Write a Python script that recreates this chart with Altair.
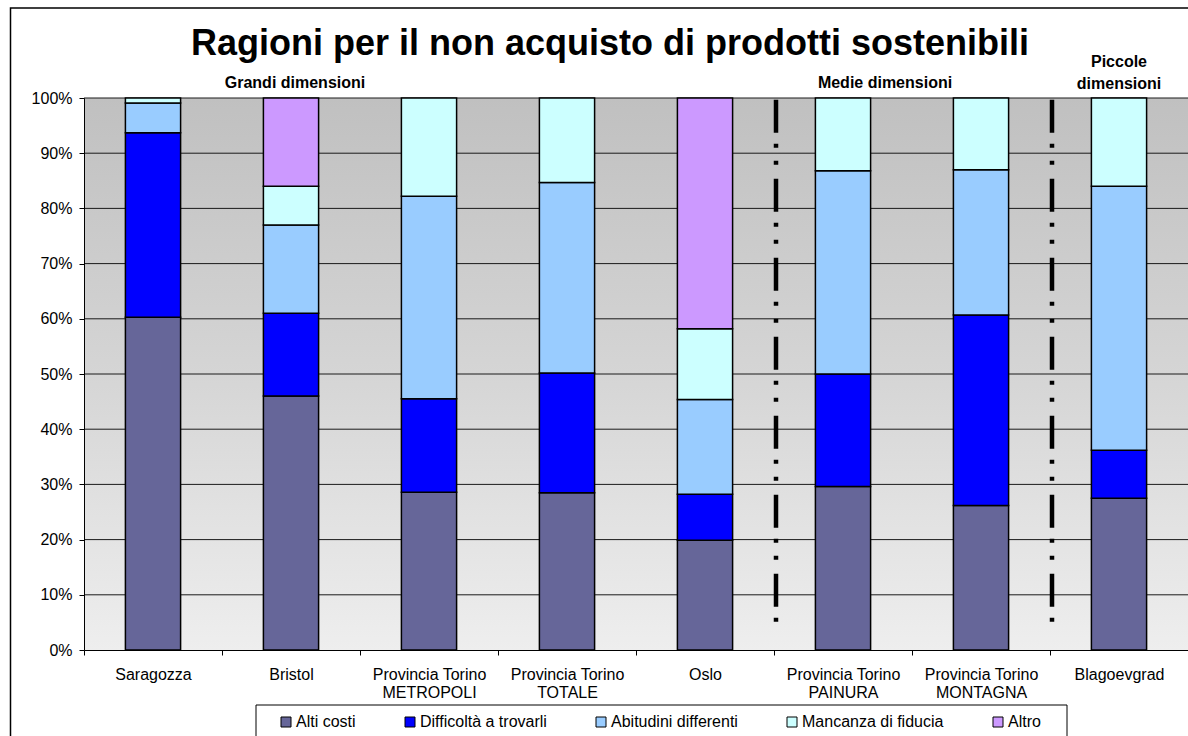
import altair as alt
import pandas as pd

# Categories (x axis) and the share of each reason, in percent
CATEGORIES = [
    "Saragozza",
    "Bristol",
    "Provincia Torino\nMETROPOLI",
    "Provincia Torino\nTOTALE",
    "Oslo",
    "Provincia Torino\nPAINURA",
    "Provincia Torino\nMONTAGNA",
    "Blagoevgrad",
]
SERIES = ["Alti costi", "Difficoltà a trovarli", "Abitudini differenti",
          "Mancanza di fiducia", "Altro"]
ALTI_COSTI = [60.3, 46.0, 28.6, 28.5, 19.9, 29.6, 26.2, 27.5]
DIFFICOLTA = [33.4, 15.0, 16.9, 21.7, 8.3, 20.4, 34.5, 8.7]
ABITUDINI = [5.4, 16.0, 36.7, 34.5, 17.2, 36.8, 26.3, 47.8]
MANCANZA = [0.9, 7.0, 17.8, 15.3, 12.8, 13.2, 13.0, 16.0]
ALTRO = [0.0, 16.0, 0.0, 0.0, 41.8, 0.0, 0.0, 0.0]
COLORS = ["#666699", "#0000FF", "#99CCFF", "#CCFFFF", "#CC99FF"]

Y_TICKS = [0, 10, 20, 30, 40, 50, 60, 70, 80, 90, 100]

TITLE = "Ragioni per il non acquisto di prodotti sostenibili"
# group separators drawn after these categories
SEPARATOR_AFTER = ["Oslo", "Provincia Torino\nMONTAGNA"]
SEPARATOR_SPAN = (99.7, 4.8)

W, H = 1104, 552
FONT = "Liberation Sans"

rows = []
for s_idx, (name, vals) in enumerate(zip(SERIES, [ALTI_COSTI, DIFFICOLTA, ABITUDINI, MANCANZA, ALTRO])):
    for cat, v in zip(CATEGORIES, vals):
        rows.append({"categoria": cat, "motivo": name, "valore": v, "ordine": s_idx})
df = pd.DataFrame(rows)

one = pd.DataFrame({"k": [0]})

x_scale = alt.Scale(domain=CATEGORIES, paddingInner=0, paddingOuter=0)
y_scale = alt.Scale(domain=[0, 100], nice=False)

# shared axis definitions, reused by every layer that encodes x or y
X_AXIS = alt.Axis(title=None, labelExpr="split(datum.label, '\\n')",
                  labelAngle=0, tickBand="extent", tickSize=5,
                  labelPadding=24, labelBaseline="alphabetic",
                  labelLineHeight=18, labelFontSize=16, labelColor="black",
                  labelLimit=0, domainColor="black", tickColor="black",
                  grid=False, zindex=1)
Y_AXIS = alt.Axis(title=None, values=Y_TICKS, labelExpr="datum.value + '%'",
                  tickSize=5, labelPadding=7, labelFontSize=16,
                  labelColor="black", domainColor="black", tickColor="black",
                  grid=False, zindex=1)


def x_enc(**kw):
    return alt.X("categoria:N", sort=CATEGORIES, scale=x_scale, axis=X_AXIS, **kw)


def y_enc(field):
    return alt.Y(field, scale=y_scale, axis=Y_AXIS)


# plot background: grey at the top fading to almost white at the bottom
background = alt.Chart(one).mark_rect(
    fill=alt.LinearGradient(
        gradient="linear",
        stops=[alt.GradientStop(color="#c0c0c0", offset=0),
               alt.GradientStop(color="#d5d5d5", offset=0.5),
               alt.GradientStop(color="#eeeeee", offset=1)],
        x1=0, x2=0, y1=0, y2=1),
).encode(x=alt.value(0), x2=alt.value(W), y=alt.value(0), y2=alt.value(H))

grid = alt.Chart(pd.DataFrame({"tick": Y_TICKS[1:]})).mark_rule(
    color="#1a1a1a", strokeWidth=1
).encode(
    y=y_enc("tick:Q"),
    x=alt.value(0), x2=alt.value(W),
)

bars = alt.Chart(df).transform_filter("datum.valore > 0").mark_bar(
    width=alt.RelativeBandSize(0.4), stroke="black", strokeWidth=1.5
).encode(
    x=x_enc(),
    y=alt.Y("valore:Q", stack="zero", scale=y_scale, axis=Y_AXIS),
    color=alt.Color("motivo:N", scale=alt.Scale(domain=SERIES, range=COLORS),
                    legend=alt.Legend(orient="none", legendX=194, legendY=616,
                                      direction="horizontal", columns=5,
                                      columnPadding=46, symbolType="square",
                                      symbolSize=100, symbolStrokeColor="black",
                                      symbolStrokeWidth=1, symbolOpacity=1,
                                      labelFontSize=16, labelOffset=2,
                                      labelColor="black", title=None, padding=0)),
    order=alt.Order("ordine:Q"),
)

separators = alt.Chart(pd.DataFrame({
    "categoria": SEPARATOR_AFTER,
    "top": [SEPARATOR_SPAN[0]] * len(SEPARATOR_AFTER),
    "bottom": [SEPARATOR_SPAN[1]] * len(SEPARATOR_AFTER),
})).mark_rule(
    color="black", strokeWidth=4.5, strokeDash=[33, 11, 4, 13, 4, 14],
    strokeCap="butt", xOffset=2
).encode(
    x=x_enc(bandPosition=1),
    y=y_enc("top:Q"),
    y2="bottom:Q",
)


def section_label(cat, text, dx, y):
    return alt.Chart(pd.DataFrame({"categoria": [cat]})).mark_text(
        text=text, fontSize=16, fontWeight="bold", font=FONT, color="black",
        align="center", baseline="alphabetic", dx=dx, lineHeight=22.5,
    ).encode(
        x=x_enc(),
        y=alt.value(y),
    )


sections = [
    section_label("Bristol", "Grandi dimensioni", 4, -10),
    section_label("Provincia Torino\nPAINURA", "Medie dimensioni", 42, -10),
    section_label("Blagoevgrad", ["Piccole", "dimensioni"], 0, -31.5),
]

title = alt.Chart(one).mark_text(
    text=TITLE, fontSize=36, fontWeight="bold", font=FONT, color="black",
    align="center", baseline="alphabetic",
).encode(x=alt.value(526), y=alt.value(-43))

legend_box = alt.Chart(one).mark_rect(
    fill="white", stroke="black", strokeWidth=1
).encode(x=alt.value(172), x2=alt.value(983), y=alt.value(607), y2=alt.value(H + 120))

outer_border = alt.Chart(one).mark_rect(
    fill=None, stroke="black", strokeWidth=1.5
).encode(x=alt.value(-73.5), x2=alt.value(W + 40), y=alt.value(-90), y2=alt.value(H + 120))

chart = alt.layer(
    background, grid, bars, separators, *sections, title, legend_box, outer_border
).properties(
    width=W, height=H,
    autosize=alt.AutoSizeParams(type="none"),
    padding={"left": 84, "top": 98, "right": 0, "bottom": 86},
).configure(
    font=FONT, background="white"
).configure_view(stroke=None)

chart.save("out.html", embed_options={"renderer": "svg", "actions": False})
